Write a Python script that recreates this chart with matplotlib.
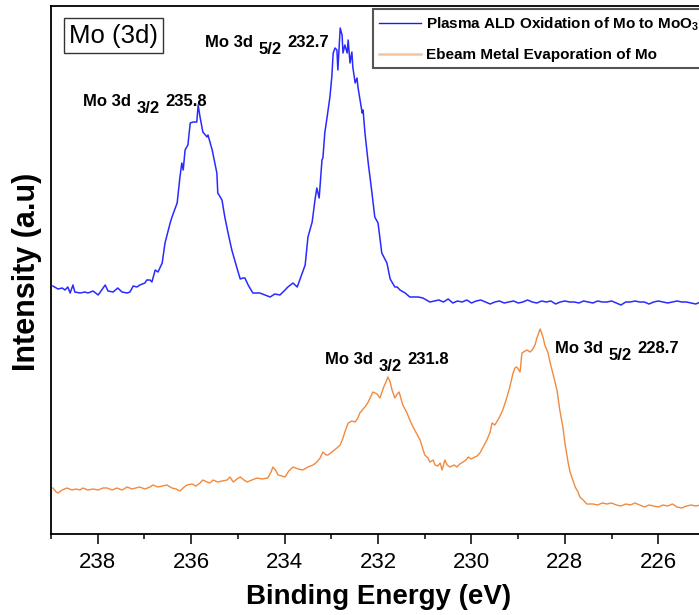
import matplotlib
matplotlib.use("Agg")
import matplotlib.pyplot as plt
from matplotlib.lines import Line2D
from matplotlib.ticker import MultipleLocator

plt.rcParams["font.family"] = ["Liberation Sans", "DejaVu Sans"]
plt.rcParams["mathtext.fontset"] = "custom"
plt.rcParams["mathtext.rm"] = "Liberation Sans"
plt.rcParams["mathtext.bf"] = "Liberation Sans:bold"

# ---- Plasma ALD oxidised Mo (MoO3) spectrum: binding energy (eV), intensity (a.u.)
ald_energy = [
    238.96, 238.85, 238.76, 238.70, 238.64, 238.59, 238.53, 238.49, 238.38, 238.27,
    238.21, 238.10, 237.99, 237.84, 237.78, 237.67, 237.57, 237.48, 237.37, 237.31,
    237.24, 237.16, 237.10, 236.99, 236.95, 236.88, 236.84, 236.77, 236.71, 236.62,
    236.56, 236.45, 236.41, 236.30, 236.24, 236.20, 236.17, 236.13, 236.07, 236.02,
    235.96, 235.88, 235.85, 235.81, 235.75, 235.66, 235.64, 235.55, 235.45, 235.43,
    235.34, 235.28, 235.21, 235.13, 235.02, 234.95, 234.89, 234.85, 234.78, 234.68,
    234.53, 234.42, 234.31, 234.21, 234.10, 233.99, 233.93, 233.82, 233.73, 233.63,
    233.56, 233.50, 233.41, 233.35, 233.31, 233.26, 233.20, 233.18, 233.14, 233.09,
    233.03, 232.99, 232.96, 232.92, 232.88, 232.86, 232.81, 232.77, 232.75, 232.71,
    232.66, 232.64, 232.60, 232.56, 232.54, 232.49, 232.45, 232.43, 232.34, 232.32,
    232.28, 232.21, 232.13, 232.07, 232.00, 231.92, 231.81, 231.74, 231.64, 231.59,
    231.53, 231.42, 231.32, 231.14, 231.04, 230.89,
    230.7, 230.6, 230.5, 230.4, 230.3, 230.2, 230.1, 230.0, 229.9, 229.8,
    229.7, 229.6, 229.5, 229.4, 229.3, 229.2, 229.1, 229.0, 228.9, 228.8,
    228.7, 228.6, 228.5, 228.4, 228.3, 228.2, 228.1, 228.0, 227.9, 227.8,
    227.7, 227.6, 227.5, 227.4, 227.3, 227.2, 227.1, 227.0, 226.9, 226.8,
    226.7, 226.6, 226.5, 226.4, 226.3, 226.2, 226.1, 226.0, 225.9, 225.8,
    225.7, 225.6, 225.5, 225.4, 225.3, 225.2, 225.1,
]
ald_intensity = [
    248, 245, 246, 244, 247, 241, 249, 242, 241, 242,
    241, 243, 239, 249, 243, 242, 246, 242, 241, 242,
    248, 247, 249, 251, 254, 254, 252, 264, 262, 271,
    291, 311, 317, 331, 357, 371, 364, 384, 389, 411,
    412, 412, 429, 417, 402, 397, 399, 384, 361, 341,
    334, 317, 301, 284, 266, 255, 256, 256, 249, 241,
    241, 239, 237, 240, 239, 244, 247, 251, 247, 260,
    269, 297, 312, 334, 346, 336, 374, 376, 401, 417,
    437, 457, 481, 486, 484, 464, 506, 499, 481, 489,
    481, 494, 471, 482, 467, 451, 456, 447, 421, 424,
    401, 371, 341, 317, 311, 281, 271, 255, 247, 247,
    244, 241, 237, 237, 236, 232,
    234, 232, 235, 231, 233, 232, 234, 231, 233, 234,
    232, 230, 232, 233, 231, 232, 233, 231, 232, 234,
    232, 231, 233, 232, 233, 230, 232, 233, 232, 232,
    231, 233, 232, 231, 233, 232, 232, 233, 231, 229,
    232, 232, 233, 232, 232, 230, 232, 233, 232, 231,
    232, 233, 232, 232, 231, 230, 232,
]

# ---- E-beam evaporated metallic Mo spectrum
ebeam_energy = [
    238.96, 238.89, 238.85, 238.76, 238.66, 238.55, 238.46, 238.38, 238.32, 238.21,
    238.10, 237.99, 237.89, 237.80, 237.69, 237.59, 237.48, 237.37, 237.27, 237.18,
    237.10, 236.99, 236.88, 236.82, 236.71, 236.62, 236.52, 236.41, 236.32, 236.24,
    236.15, 236.09, 235.98, 235.90, 235.81, 235.75, 235.66, 235.60, 235.53, 235.43,
    235.34, 235.23, 235.17, 235.10, 235.02, 234.95, 234.87, 234.80, 234.70, 234.59,
    234.48, 234.36, 234.29, 234.25, 234.18, 234.14, 234.06, 233.99, 233.91, 233.82,
    233.71, 233.61, 233.50, 233.39, 233.31, 233.24, 233.18, 233.11, 233.07, 232.96,
    232.88, 232.81, 232.75, 232.71, 232.64, 232.56, 232.49, 232.43, 232.39, 232.32,
    232.28, 232.21, 232.15, 232.11, 232.02, 231.96, 231.87, 231.83, 231.79, 231.74,
    231.70, 231.64, 231.59, 231.55, 231.47, 231.38, 231.32, 231.25, 231.17, 231.10,
    231.00, 230.93, 230.89, 230.82, 230.78, 230.72, 230.67, 230.63, 230.57, 230.52,
    230.46, 230.37, 230.31, 230.25, 230.18, 230.12, 230.07, 230.01, 229.97, 229.88,
    229.82, 229.75, 229.67, 229.60, 229.56, 229.50, 229.41, 229.33, 229.28, 229.24,
    229.18, 229.11, 229.07, 229.03, 228.96, 228.92, 228.85, 228.81, 228.75, 228.70,
    228.64, 228.60, 228.53, 228.47, 228.43, 228.36, 228.32, 228.26, 228.17, 228.11,
    228.04, 228.00, 227.93, 227.89, 227.83, 227.78, 227.72, 227.68, 227.61, 227.53,
    227.4, 227.3, 227.2, 227.1, 227.0, 226.9, 226.8, 226.7, 226.6, 226.5,
    226.4, 226.3, 226.2, 226.1, 226.0, 225.9, 225.8, 225.7, 225.6, 225.5,
    225.4, 225.3, 225.2, 225.1,
]
ebeam_intensity = [
    46, 42, 41, 44, 46, 44, 45, 44, 46, 44,
    45, 44, 46, 46, 44, 46, 44, 47, 45, 46,
    47, 45, 47, 49, 47, 48, 49, 46, 45, 43,
    47, 49, 50, 48, 51, 54, 52, 51, 54, 52,
    53, 54, 57, 52, 55, 57, 54, 52, 54, 56,
    55, 56, 62, 67, 63, 59, 58, 57, 63, 67,
    65, 64, 67, 69, 72, 76, 82, 79, 79, 83,
    86, 89, 96, 102, 111, 113, 112, 116, 121, 125,
    127, 132, 138, 142, 140, 136, 148, 152, 157, 152,
    144, 136, 140, 142, 129, 121, 114, 107, 100, 94,
    79, 76, 72, 74, 69, 68, 71, 64, 74, 69,
    67, 69, 67, 70, 72, 74, 77, 75, 76, 78,
    81, 87, 94, 102, 111, 109, 116, 124, 131, 137,
    147, 161, 166, 167, 162, 181, 183, 184, 182, 184,
    189, 196, 205, 197, 189, 181, 172, 161, 144, 124,
    106, 91, 71, 62, 54, 47, 42, 37, 34, 30,
    30, 29, 31, 30, 31, 29, 28, 30, 29, 31,
    29, 27, 29, 28, 27, 29, 28, 30, 27, 26,
    28, 29, 28, 29,
]

series_labels = [r"Plasma ALD Oxidation of Mo to MoO$_\mathbf{3}$",
                 "Ebeam Metal Evaporation of Mo"]
line_colors = ["#2a2aff", "#f28a3e"]
handle_colors = ["#1a1aff", "#f7c49b"]

# peak annotations: (left energy, baseline height, spin-orbit level, peak energy)
peak_notes = [
    (238.32, 428, "3/2", "235.8"),
    (235.70, 487, "5/2", "232.7"),
    (233.14, 170, "3/2", "231.8"),
    (228.21, 181, "5/2", "228.7"),
]

W, H = 699, 615
fig = plt.figure(figsize=(W / 100, H / 100), dpi=100)

# the plotting frame runs a little past the right border of the canvas
x_left, x_right = 239.0, 225.0
px_per_ev = 46.72
ax_left_px, ax_bottom_px, ax_top_px = 51, 534, 6
ax_w_px = (x_left - x_right) * px_per_ev
ax = fig.add_axes([ax_left_px / W, (H - ax_bottom_px) / H,
                   ax_w_px / W, (ax_bottom_px - ax_top_px) / H])

ax.plot(ald_energy, ald_intensity, color=line_colors[0], lw=1.1)
ax.plot(ebeam_energy, ebeam_intensity, color=line_colors[1], lw=1.0)

ax.set_xlim(x_left, x_right)
ax.set_ylim(0, ax_bottom_px - ax_top_px)

ax.xaxis.set_major_locator(MultipleLocator(2))
ax.xaxis.set_minor_locator(MultipleLocator(1))
ax.tick_params(axis="x", which="major", direction="out", length=7, width=1.1,
               labelsize=16, pad=6)
ax.tick_params(axis="x", which="minor", direction="out", length=3.5, width=1.1)
ax.set_yticks([])
for s in ax.spines.values():
    s.set_linewidth(1.3)

# peak labels with shifted spin-orbit subscripts
for ex, ey, level, energy in peak_notes:
    t1 = ax.text(ex, ey, "Mo 3d", fontsize=12, fontweight="bold", va="baseline")
    t2 = ax.annotate(level, xy=(1, 0), xycoords=t1, xytext=(4, -5),
                     textcoords="offset points", fontsize=12, fontweight="bold",
                     va="bottom", ha="left")
    ax.annotate(energy, xy=(1, 0), xycoords=t2, xytext=(4, 5),
                textcoords="offset points", fontsize=12, fontweight="bold",
                va="bottom", ha="left")

# region tag
fig.text(113.5 / W, (H - 35.5) / H, "Mo (3d)", fontsize=18.5, ha="center", va="center",
         bbox=dict(boxstyle="square,pad=0.2", facecolor="white", edgecolor="#333333",
                   linewidth=1.0))

handles = [Line2D([], [], color=handle_colors[0], lw=1.0),
           Line2D([], [], color=handle_colors[1], lw=1.8)]
leg = fig.legend(handles, series_labels, loc="upper left",
                 bbox_to_anchor=(373 / W, (H - 9) / H), borderaxespad=0,
                 prop={"size": 11, "weight": "bold"}, fancybox=False,
                 framealpha=1, edgecolor="#555555", handlelength=2.75,
                 handletextpad=0.35, labelspacing=1.0, borderpad=0.4)
leg.get_frame().set_linewidth(1.5)

fig.text(27 / W, (H - 272) / H, "Intensity (a.u)", fontsize=22, fontweight="bold",
         rotation=90, ha="center", va="center")
fig.text(379 / W, (H - 597) / H, "Binding Energy (eV)", fontsize=20, fontweight="bold",
         ha="center", va="center")

fig.savefig("out.png", dpi=100)
